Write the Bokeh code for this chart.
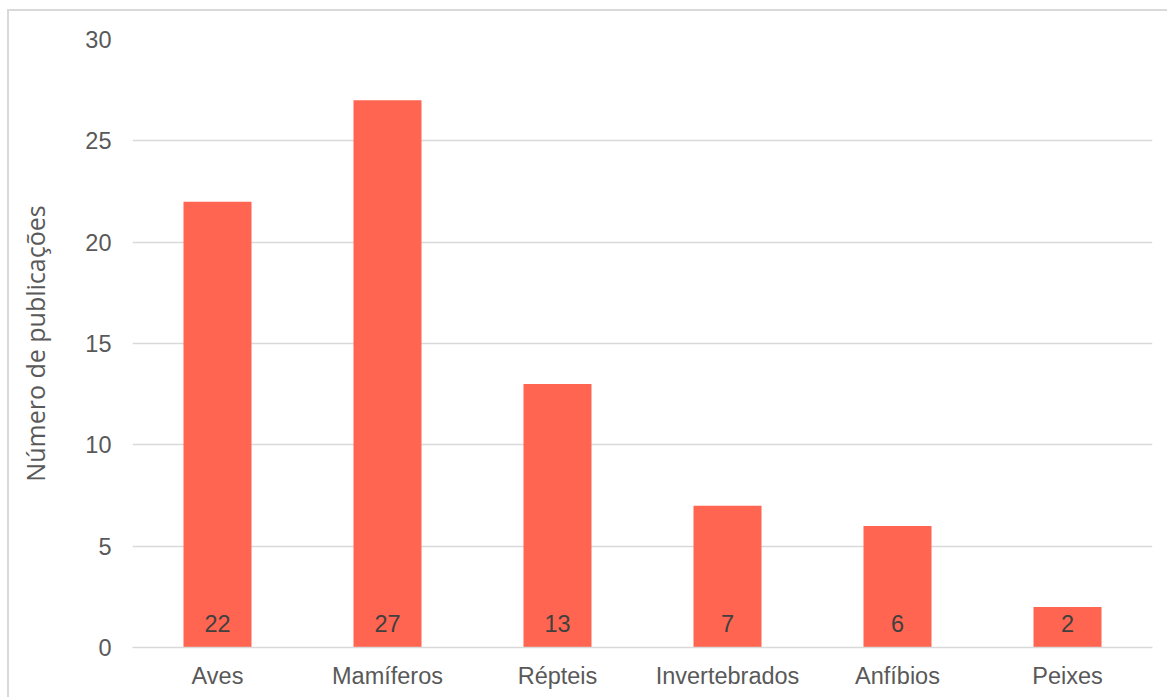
from bokeh.plotting import figure
from bokeh.models import ColumnDataSource, FactorRange, Range1d
from bokeh.embed import file_html
from bokeh.resources import INLINE
from bokeh.core.properties import value

categories = ["Aves", "Mamíferos", "Répteis", "Invertebrados", "Anfíbios", "Peixes"]
counts = [22, 27, 13, 7, 6, 2]
y_ticks = [0, 5, 10, 15, 20, 25, 30]
y_title = "Número de publicações"

src = ColumnDataSource(dict(cat=categories, n=counts, lab=[str(v) for v in counts], zero=[0] * len(counts)))

p = figure(
    x_range=FactorRange(*categories, range_padding=0),
    y_range=Range1d(0, 30),
    width=1160, height=688,
    output_backend="svg", toolbar_location=None,
    min_border_left=123, min_border_right=17, min_border_top=28, min_border_bottom=52,
    margin=(9, 0, 0, 7),
    styles={"border-top": "2px solid #d9d9d9", "border-left": "2px solid #d9d9d9"},
)
p.outline_line_color = None
p.background_fill_color = "white"
p.border_fill_color = "white"

p.vbar(x="cat", top="n", width=0.4, source=src, fill_color="#FF6550", line_color=None)
p.text(x="cat", y="zero", text="lab", source=src, y_offset=-24,
       text_align="center", text_baseline="middle",
       text_font=value("Liberation Sans"), text_font_size="23.5px", text_color="#404040")

p.xgrid.grid_line_color = None
p.ygrid.grid_line_color = "#d9d9d9"
p.ygrid.grid_line_width = 1.5
p.yaxis.ticker = y_ticks

for ax in (p.xaxis, p.yaxis):
    ax.major_tick_line_color = None
    ax.minor_tick_line_color = None
    ax.major_label_text_font = "Liberation Sans"
    ax.major_label_text_font_size = "23.5px"
    ax.major_label_text_color = "#595959"

p.yaxis.axis_line_color = None
p.yaxis.major_label_standoff = 15
p.xaxis.axis_line_color = "#d9d9d9"
p.xaxis.axis_line_width = 1.5
p.xaxis.major_label_standoff = 9

p.yaxis.axis_label = y_title
p.yaxis.axis_label_text_font = "Open Sans"
p.yaxis.axis_label_text_font_size = "25px"
p.yaxis.axis_label_text_font_style = "normal"
p.yaxis.axis_label_text_color = "#595959"
p.yaxis.axis_label_standoff = 30

open("out.html", "w").write(file_html(p, INLINE))
